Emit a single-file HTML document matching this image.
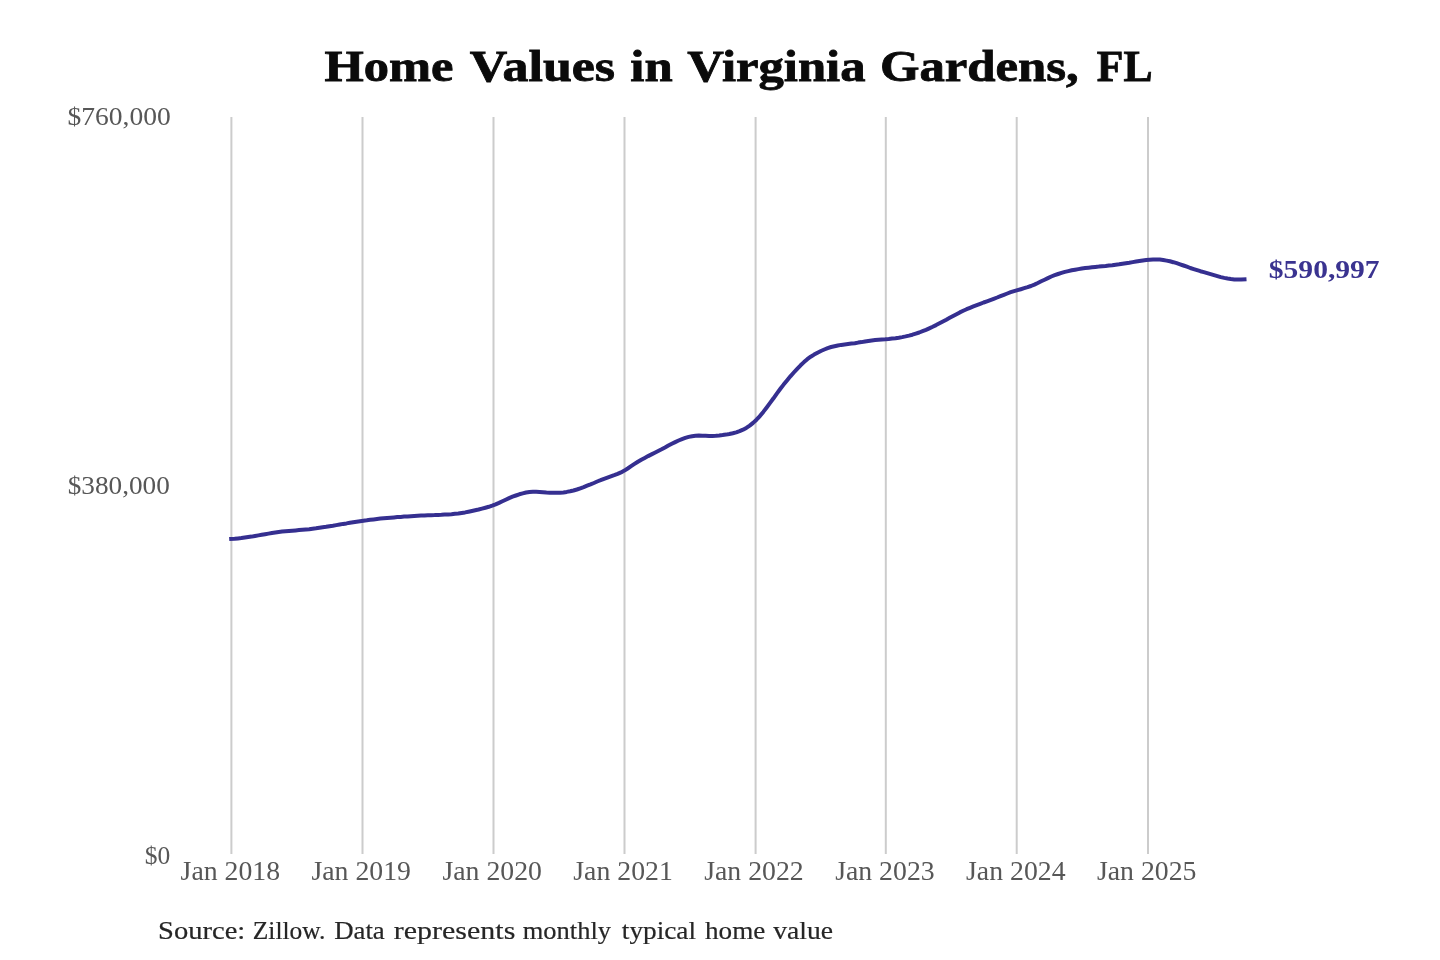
<!DOCTYPE html>
<html><head><meta charset="utf-8"><style>
html,body{margin:0;padding:0;background:#fff;width:1440px;height:960px;overflow:hidden}
svg{display:block;filter:blur(0.4px)}
text{font-family:"Liberation Serif",serif}
.yl{font-size:26px;fill:#575757}
.xl{font-size:27px;fill:#575757}
.ti{font-size:44px;font-weight:bold;fill:#0a0a0a;stroke:#0a0a0a;stroke-width:0.8px}
.vl{font-size:26px;font-weight:bold;fill:#3a3390}
.src{font-size:26px;fill:#262626;stroke:#262626;stroke-width:0.2px}
</style></head><body>
<svg width="1440" height="960" viewBox="0 0 1440 960">
<rect width="1440" height="960" fill="#ffffff"/>
<text x="324.54" y="81.4" textLength="128.97" lengthAdjust="spacingAndGlyphs" class="ti">Home</text>
<text x="469.76" y="81.4" textLength="145.3" lengthAdjust="spacingAndGlyphs" class="ti">Values</text>
<text x="630.29" y="81.4" textLength="42.33" lengthAdjust="spacingAndGlyphs" class="ti">in</text>
<text x="687.23" y="81.4" textLength="178.3" lengthAdjust="spacingAndGlyphs" class="ti">Virginia</text>
<text x="879.92" y="81.4" textLength="198.88" lengthAdjust="spacingAndGlyphs" class="ti">Gardens,</text>
<text x="1096.8" y="81.4" textLength="55.74" lengthAdjust="spacingAndGlyphs" class="ti">FL</text>

<line x1="231.40" y1="117" x2="231.40" y2="854" stroke="#cccccc" stroke-width="2"/>
<line x1="362.50" y1="117" x2="362.50" y2="854" stroke="#cccccc" stroke-width="2"/>
<line x1="493.50" y1="117" x2="493.50" y2="854" stroke="#cccccc" stroke-width="2"/>
<line x1="624.50" y1="117" x2="624.50" y2="854" stroke="#cccccc" stroke-width="2"/>
<line x1="755.60" y1="117" x2="755.60" y2="854" stroke="#cccccc" stroke-width="2"/>
<line x1="885.80" y1="117" x2="885.80" y2="854" stroke="#cccccc" stroke-width="2"/>
<line x1="1016.70" y1="117" x2="1016.70" y2="854" stroke="#cccccc" stroke-width="2"/>
<line x1="1148.00" y1="117" x2="1148.00" y2="854" stroke="#cccccc" stroke-width="2"/>

<text x="67.45" y="124.5" textLength="103.34" lengthAdjust="spacingAndGlyphs" class="yl">$760,000</text>
<text x="67.76" y="493.75" textLength="102.08" lengthAdjust="spacingAndGlyphs" class="yl">$380,000</text>
<text x="144.8" y="863.5" textLength="25.5" lengthAdjust="spacingAndGlyphs" class="yl">$0</text>

<text x="180.58" y="879.6" textLength="99.53" lengthAdjust="spacingAndGlyphs" class="xl">Jan 2018</text>
<text x="311.49" y="879.6" textLength="99.53" lengthAdjust="spacingAndGlyphs" class="xl">Jan 2019</text>
<text x="442.41" y="879.6" textLength="99.53" lengthAdjust="spacingAndGlyphs" class="xl">Jan 2020</text>
<text x="573.32" y="879.6" textLength="99.53" lengthAdjust="spacingAndGlyphs" class="xl">Jan 2021</text>
<text x="704.24" y="879.6" textLength="99.53" lengthAdjust="spacingAndGlyphs" class="xl">Jan 2022</text>
<text x="835.15" y="879.6" textLength="99.53" lengthAdjust="spacingAndGlyphs" class="xl">Jan 2023</text>
<text x="966.07" y="879.6" textLength="99.53" lengthAdjust="spacingAndGlyphs" class="xl">Jan 2024</text>
<text x="1096.98" y="879.6" textLength="99.53" lengthAdjust="spacingAndGlyphs" class="xl">Jan 2025</text>

<path d="M231.2,538.9 L234.6,538.7 L238.0,538.4 L241.4,538.1 L244.8,537.6 L248.2,537.1 L251.6,536.6 L255.0,536.0 L258.4,535.4 L261.7,534.8 L265.1,534.2 L268.5,533.6 L271.9,533.0 L275.3,532.5 L278.7,532.0 L282.1,531.6 L285.5,531.3 L288.9,531.0 L292.2,530.7 L295.6,530.4 L299.0,530.1 L302.4,529.8 L305.8,529.5 L309.2,529.2 L312.6,528.7 L316.0,528.3 L319.4,527.8 L322.7,527.3 L326.1,526.8 L329.5,526.2 L332.9,525.7 L336.3,525.1 L339.7,524.5 L343.1,523.9 L346.5,523.4 L349.9,522.8 L353.2,522.2 L356.6,521.7 L360.0,521.2 L363.4,520.7 L366.8,520.3 L370.2,519.8 L373.6,519.4 L377.0,519.0 L380.4,518.6 L383.7,518.3 L387.1,518.0 L390.5,517.7 L393.9,517.4 L397.3,517.1 L400.7,516.9 L404.1,516.6 L407.5,516.4 L410.9,516.2 L414.2,516.0 L417.6,515.8 L421.0,515.6 L424.4,515.5 L427.8,515.3 L431.2,515.2 L434.6,515.1 L438.0,514.9 L441.4,514.8 L444.7,514.6 L448.1,514.4 L451.5,514.2 L454.9,513.8 L458.3,513.4 L461.7,512.9 L465.1,512.4 L468.5,511.7 L471.9,511.0 L475.2,510.3 L478.6,509.5 L482.0,508.6 L485.4,507.7 L488.8,506.8 L492.2,505.7 L495.6,504.4 L499.0,502.9 L502.4,501.3 L505.7,499.7 L509.1,498.1 L512.5,496.7 L515.9,495.5 L519.3,494.3 L522.7,493.4 L526.1,492.5 L529.5,492.0 L532.9,491.8 L536.2,491.8 L539.6,491.9 L543.0,492.2 L546.4,492.5 L549.8,492.7 L553.2,492.8 L556.6,492.8 L560.0,492.7 L563.4,492.4 L566.7,491.9 L570.1,491.3 L573.5,490.5 L576.9,489.5 L580.3,488.3 L583.7,487.1 L587.1,485.7 L590.5,484.4 L593.9,483.0 L597.2,481.5 L600.6,480.2 L604.0,478.8 L607.4,477.6 L610.8,476.4 L614.2,475.2 L617.6,473.9 L621.0,472.4 L624.4,470.6 L627.7,468.5 L631.1,466.2 L634.5,463.9 L637.9,461.7 L641.3,459.7 L644.7,457.9 L648.1,456.1 L651.5,454.4 L654.8,452.7 L658.2,451.0 L661.6,449.3 L665.0,447.5 L668.4,445.6 L671.8,443.8 L675.2,442.1 L678.6,440.5 L682.0,439.1 L685.3,437.9 L688.7,436.9 L692.1,436.2 L695.5,435.8 L698.9,435.6 L702.3,435.7 L705.7,435.8 L709.1,435.9 L712.5,435.9 L715.8,435.8 L719.2,435.5 L722.6,435.1 L726.0,434.6 L729.4,434.0 L732.8,433.3 L736.2,432.4 L739.6,431.2 L743.0,429.7 L746.3,427.9 L749.7,425.6 L753.1,422.9 L756.5,419.7 L759.9,416.1 L763.3,411.9 L766.7,407.5 L770.1,402.9 L773.5,398.3 L776.8,393.6 L780.2,389.0 L783.6,384.6 L787.0,380.4 L790.4,376.3 L793.8,372.5 L797.2,368.8 L800.6,365.3 L804.0,362.1 L807.3,359.2 L810.7,356.7 L814.1,354.6 L817.5,352.7 L820.9,351.0 L824.3,349.5 L827.7,348.1 L831.1,347.0 L834.5,346.2 L837.8,345.5 L841.2,344.9 L844.6,344.4 L848.0,344.0 L851.4,343.6 L854.8,343.2 L858.2,342.6 L861.6,342.1 L865.0,341.5 L868.3,341.0 L871.7,340.5 L875.1,340.1 L878.5,339.8 L881.9,339.5 L885.3,339.3 L888.7,339.0 L892.1,338.6 L895.5,338.2 L898.8,337.7 L902.2,337.1 L905.6,336.4 L909.0,335.6 L912.4,334.7 L915.8,333.6 L919.2,332.5 L922.6,331.2 L926.0,329.9 L929.3,328.4 L932.7,326.8 L936.1,325.1 L939.5,323.3 L942.9,321.5 L946.3,319.7 L949.7,317.8 L953.1,316.0 L956.5,314.2 L959.8,312.4 L963.2,310.8 L966.6,309.2 L970.0,307.8 L973.4,306.4 L976.8,305.1 L980.2,303.8 L983.6,302.5 L987.0,301.3 L990.3,300.1 L993.7,298.8 L997.1,297.5 L1000.5,296.1 L1003.9,294.8 L1007.3,293.5 L1010.7,292.2 L1014.1,291.1 L1017.5,290.1 L1020.8,289.2 L1024.2,288.2 L1027.6,287.2 L1031.0,286.0 L1034.4,284.6 L1037.8,283.0 L1041.2,281.3 L1044.6,279.7 L1047.9,278.1 L1051.3,276.5 L1054.7,275.2 L1058.1,274.0 L1061.5,272.9 L1064.9,271.9 L1068.3,271.1 L1071.7,270.3 L1075.1,269.7 L1078.4,269.1 L1081.8,268.5 L1085.2,268.1 L1088.6,267.7 L1092.0,267.3 L1095.4,266.9 L1098.8,266.6 L1102.2,266.2 L1105.6,265.9 L1108.9,265.5 L1112.3,265.2 L1115.7,264.7 L1119.1,264.3 L1122.5,263.7 L1125.9,263.2 L1129.3,262.7 L1132.7,262.1 L1136.1,261.5 L1139.4,261.0 L1142.8,260.5 L1146.2,260.1 L1149.6,259.7 L1153.0,259.5 L1156.4,259.5 L1159.8,259.6 L1163.2,260.0 L1166.6,260.6 L1169.9,261.3 L1173.3,262.2 L1176.7,263.2 L1180.1,264.3 L1183.5,265.5 L1186.9,266.7 L1190.3,268.0 L1193.7,269.1 L1197.1,270.2 L1200.4,271.2 L1203.8,272.1 L1207.2,273.1 L1210.6,274.1 L1214.0,275.1 L1217.4,276.1 L1220.8,277.1 L1224.2,277.9 L1227.6,278.5 L1230.9,279.0 L1234.3,279.4 L1237.7,279.5 L1241.1,279.5 L1244.5,279.3" fill="none" stroke="#352f90" stroke-width="4" stroke-linejoin="round" stroke-linecap="square"/>
<text x="1268.85" y="277.7" textLength="110.73" lengthAdjust="spacingAndGlyphs" class="vl">$590,997</text>

<text x="158.07" y="938.75" textLength="87.17" lengthAdjust="spacingAndGlyphs" class="src">Source:</text>
<text x="252.81" y="938.75" textLength="72.6" lengthAdjust="spacingAndGlyphs" class="src">Zillow.</text>
<text x="334.17" y="938.75" textLength="50.63" lengthAdjust="spacingAndGlyphs" class="src">Data</text>
<text x="393.83" y="938.75" textLength="121.49" lengthAdjust="spacingAndGlyphs" class="src">represents</text>
<text x="522.79" y="938.75" textLength="88.18" lengthAdjust="spacingAndGlyphs" class="src">monthly</text>
<text x="621.81" y="938.75" textLength="74.26" lengthAdjust="spacingAndGlyphs" class="src">typical</text>
<text x="705.0" y="938.75" textLength="60.31" lengthAdjust="spacingAndGlyphs" class="src">home</text>
<text x="773.21" y="938.75" textLength="59.84" lengthAdjust="spacingAndGlyphs" class="src">value</text>

</svg>
</body></html>
